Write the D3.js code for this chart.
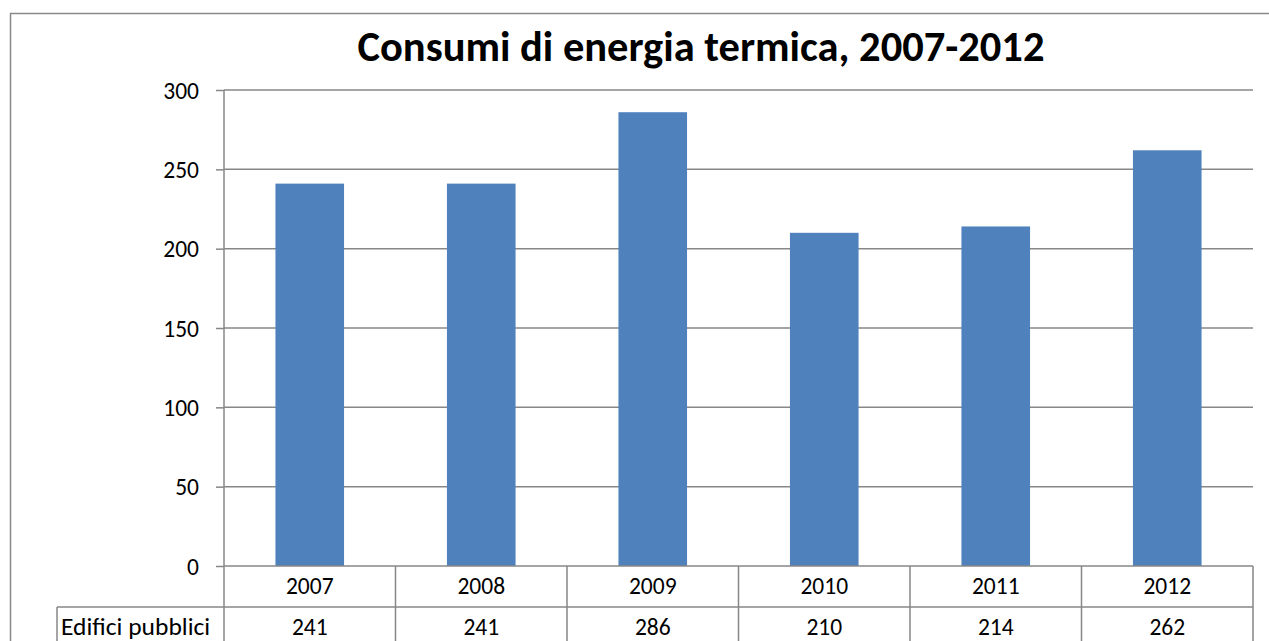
<!DOCTYPE html>
<html>
<head>
<script src="https://d3js.org/d3.v7.min.js"></script>
<style>
  body { margin: 0; background: #fff; }
  text { font-family: Carlito, Calibri, Lato, sans-serif; fill: #000; }
</style>
</head>
<body>
<div id="chart"></div>
<script>
  var years = ["2007", "2008", "2009", "2010", "2011", "2012"];
  var values = [241, 241, 286, 210, 214, 262];
  var seriesName = "Edifici pubblici";
  var yTicks = [0, 50, 100, 150, 200, 250, 300];

  var W = 1269, H = 641;
  var plot = { left: 224, right: 1253, top: 90, bottom: 566 };
  var rowH = 41;
  var legendLeft = 57;
  var gridColor = "#878787";

  var svg = d3.select("#chart").append("svg")
    .attr("width", W).attr("height", H);

  // outer chart border (runs off the right / bottom of the picture)
  svg.append("rect")
    .attr("x", 10.5).attr("y", 13.5)
    .attr("width", 1300).attr("height", 700)
    .attr("fill", "none").attr("stroke", "#898989").attr("stroke-width", 1.5);

  svg.append("text")
    .attr("x", 701).attr("y", 61)
    .attr("text-anchor", "middle")
    .style("font-size", "42.5px").style("font-weight", "bold")
    .text("Consumi di energia termica, 2007-2012");

  var x = d3.scaleBand().domain(years).range([plot.left, plot.right]).paddingInner(0).paddingOuter(0);
  var y = d3.scaleLinear().domain([0, 300]).range([plot.bottom, plot.top]);

  // gridlines + ticks
  var yAxis = d3.axisLeft(y).tickValues(yTicks).tickSize(8).tickPadding(17);
  var gy = svg.append("g").attr("transform", "translate(" + plot.left + ",0)").call(yAxis);
  gy.select(".domain").remove();
  gy.selectAll(".tick line").attr("stroke", gridColor).attr("stroke-width", 1.5);
  gy.selectAll(".tick text").style("font-size", "23.5px").style("font-family", null).attr("dy", "0.35em");

  svg.append("g").selectAll("line.grid")
    .data(yTicks.slice(1))
    .enter().append("line")
    .attr("x1", plot.left).attr("x2", plot.right)
    .attr("y1", function(d) { return y(d); }).attr("y2", function(d) { return y(d); })
    .attr("stroke", gridColor).attr("stroke-width", 1.5);

  // bars
  var barW = x.bandwidth() * 0.4;
  svg.append("g").selectAll("rect")
    .data(values)
    .enter().append("rect")
    .attr("x", function(d, i) { return x(years[i]) + x.bandwidth() / 2 - barW / 2; })
    .attr("y", function(d) { return y(d); })
    .attr("width", barW)
    .attr("height", function(d) { return y(0) - y(d); })
    .attr("fill", "#4F81BD");

  // data table
  var table = svg.append("g").attr("stroke", gridColor).attr("stroke-width", 1.5).attr("fill", "none");
  table.append("line").attr("x1", plot.left).attr("x2", plot.left).attr("y1", plot.top).attr("y2", H);
  table.append("line").attr("x1", plot.left).attr("x2", plot.right).attr("y1", plot.bottom).attr("y2", plot.bottom);
  table.append("line").attr("x1", legendLeft).attr("x2", plot.right).attr("y1", plot.bottom + rowH).attr("y2", plot.bottom + rowH);
  table.append("line").attr("x1", legendLeft).attr("x2", legendLeft).attr("y1", plot.bottom + rowH).attr("y2", H);
  table.selectAll("line.col")
    .data(years)
    .enter().append("line")
    .attr("x1", function(d) { return x(d) + x.bandwidth(); })
    .attr("x2", function(d) { return x(d) + x.bandwidth(); })
    .attr("y1", plot.bottom).attr("y2", H);

  svg.append("g").selectAll("text")
    .data(years)
    .enter().append("text")
    .attr("x", function(d) { return x(d) + x.bandwidth() / 2; })
    .attr("y", 594)
    .attr("text-anchor", "middle")
    .style("font-size", "23.5px")
    .text(function(d) { return d; });

  svg.append("g").selectAll("text")
    .data(values)
    .enter().append("text")
    .attr("x", function(d, i) { return x(years[i]) + x.bandwidth() / 2; })
    .attr("y", 635)
    .attr("text-anchor", "middle")
    .style("font-size", "23.5px")
    .text(function(d) { return d; });

  svg.append("text")
    .attr("x", legendLeft + 4)
    .attr("y", 635)
    .style("font-size", "25.5px")
    .text(seriesName);
</script>
</body>
</html>
